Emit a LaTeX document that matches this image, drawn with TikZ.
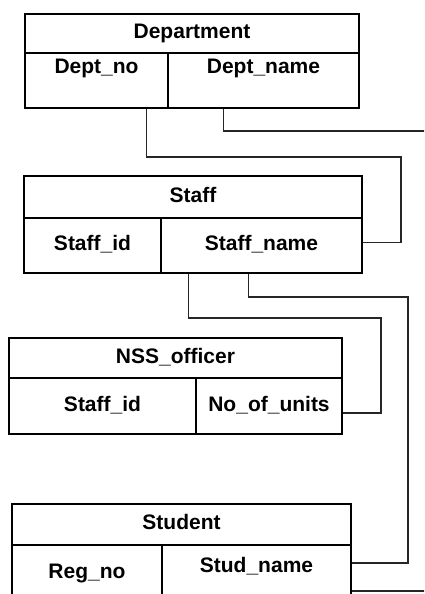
\documentclass[tikz,border=0pt]{standalone}
\usepackage{fontspec}
\setmainfont{Liberation Sans}
\usetikzlibrary{calc}

\begin{document}
\begin{tikzpicture}[x=1pt, y=-1pt,
    every node/.style={font=\fontsize{21}{25}\selectfont\bfseries},
    head/.style={draw, line width=1.4pt, inner sep=0pt, text height=15pt, text depth=5pt},
    cell/.style={draw, line width=1.4pt, inner sep=0pt, text height=15pt, text depth=5pt},
    link/.style={line width=1.1pt, black!85}]
      \useasboundingbox (0,0) rectangle (424,594);
      \clip (0,0) rectangle (424,594);

      % Department
      \node[head, minimum width=334pt, minimum height=39pt] (dept) at (192,33.5) {Department};
      \node[cell, minimum width=143pt, minimum height=55pt, text depth=28pt] (deptno) at (96.5,80.5) {Dept\_no};
      \node[cell, minimum width=191pt, minimum height=55pt, text depth=28pt] (deptname) at (263.5,80.5) {Dept\_name};

      % Staff
      \node[head, minimum width=338pt, minimum height=42pt] (staff) at (193,197) {Staff};
      \node[cell, minimum width=137pt, minimum height=55pt] (staffid) at (92.5,245.5) {Staff\_id};
      \node[cell, minimum width=201pt, minimum height=55pt] (staffname) at (261.5,245.5) {Staff\_name};

      % NSS officer
      \node[head, minimum width=333pt, minimum height=40pt] (nss) at (175.5,358) {NSS\_officer};
      \node[cell, minimum width=187pt, minimum height=56pt] (nssid) at (102.5,406) {Staff\_id};
      \node[cell, minimum width=146pt, minimum height=56pt] (nssunits) at (269,406) {No\_of\_units};

      % Student
      \node[head, minimum width=339pt, minimum height=41pt] (student) at (181.5,524.5) {Student};
      \node[cell, minimum width=150pt, minimum height=56pt] (regno) at (87,573) {Reg\_no};
      \node[cell, minimum width=189pt, minimum height=56pt, text depth=17pt] (studname) at (256.5,573) {Stud\_name};

      \coordinate (deptout) at (430,131);
      \coordinate (studout) at (430,591);

      \draw[link] ([xshift=-22pt]deptno.south east) |- (401,157) |- ([yshift=3pt]staffname.east);
      \draw[link] ([xshift=56pt]deptname.south west) |- (deptout);
      \draw[link] ([xshift=28pt]staffname.south west) |- (381,318) |- ([yshift=-7pt]nssunits.east);
      \draw[link] ([xshift=88pt]staffname.south west) |- (408,297) |- ([yshift=10pt]studname.east);
      \draw[link] ([yshift=-18pt]studname.east) -- (studout);
    \end{tikzpicture}
\end{document}
